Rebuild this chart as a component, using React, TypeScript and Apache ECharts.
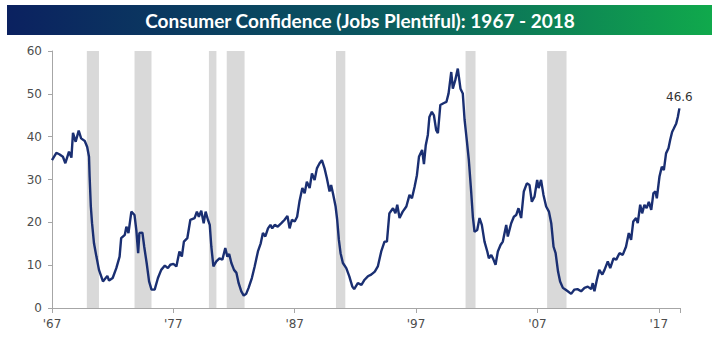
import React, { useEffect, useRef } from "react";
import * as echarts from "echarts";

const TITLE = "Consumer Confidence (Jobs Plentiful): 1967 - 2018";

// Observation dates (decimal years) and Jobs Plentiful readings (%)
const obsYear: number[] = [
  1967.0, 1967.36, 1967.6, 1967.9, 1968.1, 1968.4, 1968.6, 1968.73, 1968.95, 1969.2, 1969.4, 1969.7, 1969.9,
  1970.05, 1970.1, 1970.2, 1970.3, 1970.46, 1970.66, 1970.87, 1971.2, 1971.56, 1971.7, 1972.0, 1972.3, 1972.57,
  1972.7, 1973.0, 1973.13, 1973.3, 1973.54, 1973.8, 1973.95, 1974.1, 1974.2, 1974.45, 1974.6, 1974.8, 1975.0,
  1975.2, 1975.46, 1975.73, 1976.0, 1976.3, 1976.55, 1976.75, 1977.0, 1977.25, 1977.5, 1977.7, 1977.87, 1978.15,
  1978.4, 1978.75, 1978.94, 1979.1, 1979.3, 1979.5, 1979.66, 1979.85, 1980.0, 1980.13, 1980.3, 1980.54, 1980.8,
  1981.04, 1981.28, 1981.45, 1981.6, 1981.78, 1982.0, 1982.2, 1982.38, 1982.6, 1982.8, 1983.0, 1983.2, 1983.47,
  1983.7, 1983.97, 1984.2, 1984.38, 1984.58, 1984.8, 1985.0, 1985.15, 1985.35, 1985.6, 1985.9, 1986.17, 1986.4,
  1986.58, 1986.77, 1987.0, 1987.2, 1987.4, 1987.63, 1987.82, 1988.0, 1988.23, 1988.42, 1988.64, 1988.83, 1989.05,
  1989.24, 1989.46, 1989.65, 1989.87, 1990.0, 1990.15, 1990.37, 1990.5, 1990.64, 1990.78, 1990.97, 1991.25, 1991.5,
  1991.75, 1991.9, 1992.2, 1992.5, 1992.76, 1993.03, 1993.3, 1993.6, 1993.85, 1994.13, 1994.4, 1994.6, 1994.8,
  1995.1, 1995.3, 1995.45, 1995.64, 1995.9, 1996.2, 1996.46, 1996.66, 1996.88, 1997.07, 1997.24, 1997.5, 1997.65,
  1997.8, 1997.97, 1998.1, 1998.3, 1998.47, 1998.66, 1998.8, 1999.0, 1999.26, 1999.5, 1999.68, 1999.9, 2000.03,
  2000.23, 2000.44, 2000.66, 2000.85, 2001.0, 2001.18, 2001.35, 2001.55, 2001.68, 2001.82, 2002.04, 2002.23, 2002.42,
  2002.64, 2002.87, 2003.0, 2003.2, 2003.38, 2003.55, 2003.74, 2003.96, 2004.15, 2004.43, 2004.56, 2004.84, 2005.06,
  2005.25, 2005.44, 2005.66, 2005.88, 2006.13, 2006.35, 2006.54, 2006.76, 2006.98, 2007.1, 2007.3, 2007.5, 2007.72,
  2007.95, 2008.14, 2008.33, 2008.5, 2008.7, 2008.87, 2009.1, 2009.3, 2009.5, 2009.78, 2010.05, 2010.3, 2010.6,
  2010.88, 2011.15, 2011.43, 2011.56, 2011.7, 2011.9, 2012.1, 2012.35, 2012.53, 2012.8, 2013.0, 2013.27, 2013.5,
  2013.76, 2014.03, 2014.3, 2014.53, 2014.72, 2014.9, 2015.13, 2015.27, 2015.47, 2015.63, 2015.82, 2016.0, 2016.18,
  2016.38, 2016.56, 2016.73, 2016.84, 2017.06, 2017.25, 2017.42, 2017.6, 2017.8, 2017.94, 2018.1, 2018.24, 2018.44,
  2018.57, 2018.7,
];

const jobsPlentiful: number[] = [
  34.5, 36.2, 35.9, 35.3, 33.8, 36.5, 35.1, 40.9, 38.8, 41.4, 39.6, 39.0, 37.6,
  35.3, 30.7, 23.7, 19.8, 15.1, 12.0, 8.9, 6.2, 7.5, 6.4, 7.0, 9.3, 12.0,
  16.3, 17.1, 19.0, 17.5, 22.5, 21.7, 18.2, 12.8, 17.5, 17.6, 14.3, 10.5, 6.2,
  4.3, 4.3, 7.0, 8.9, 9.9, 9.3, 10.1, 10.3, 9.7, 13.2, 12.0, 15.5, 16.3,
  20.6, 21.0, 22.5, 21.3, 22.7, 19.8, 22.5, 20.6, 19.4, 14.3, 9.7, 10.9, 11.6,
  11.3, 14.0, 12.0, 12.6, 10.5, 8.9, 8.2, 5.8, 3.9, 2.9, 3.3, 4.7, 7.0,
  9.7, 13.2, 15.1, 17.5, 16.7, 18.6, 19.4, 18.6, 19.4, 19.0, 19.8, 20.6, 21.5,
  18.6, 20.6, 20.2, 21.3, 25.0, 28.0, 26.8, 29.5, 28.0, 31.4, 29.9, 32.6, 33.8,
  34.5, 32.6, 30.3, 27.2, 28.7, 26.8, 23.7, 20.6, 15.9, 12.8, 10.5, 9.3, 7.4,
  5.0, 4.4, 5.8, 5.4, 6.6, 7.4, 7.8, 8.5, 9.7, 13.2, 15.5, 15.5, 22.1,
  23.3, 22.1, 24.1, 21.0, 22.5, 23.7, 26.4, 25.6, 28.3, 31.0, 35.3, 36.9, 33.6,
  38.0, 40.4, 44.6, 45.8, 45.0, 41.5, 40.8, 47.4, 47.8, 48.1, 50.1, 55.1, 51.2,
  53.2, 55.9, 51.2, 50.1, 43.9, 39.2, 34.5, 26.8, 21.3, 17.8, 18.2, 21.0, 19.4,
  15.5, 13.2, 11.6, 12.4, 11.3, 10.1, 13.2, 14.7, 15.5, 19.4, 16.7, 19.8, 21.3,
  21.7, 23.3, 21.0, 27.2, 29.1, 28.7, 24.8, 26.0, 29.9, 28.0, 29.9, 26.4, 23.7,
  22.5, 19.8, 14.3, 12.8, 8.5, 6.2, 4.7, 4.3, 3.9, 3.3, 4.3, 4.4, 3.9,
  4.7, 5.0, 4.4, 5.8, 3.9, 6.6, 8.9, 7.8, 8.9, 10.9, 9.3, 11.6, 11.3,
  12.8, 12.4, 14.3, 17.5, 15.9, 20.2, 21.0, 19.8, 24.1, 22.1, 24.1, 23.3, 24.8,
  22.9, 26.8, 27.2, 25.6, 30.7, 33.0, 32.2, 36.1, 37.3, 39.2, 41.1, 41.9, 43.1,
  44.6, 46.6,
];

// Recession periods (start, end) in decimal years
const recessionStart: number[] = [1969.87, 1973.8, 1979.93, 1981.4, 1990.4, 2001.08, 2007.8];
const recessionEnd: number[] = [1970.87, 1975.2, 1980.55, 1982.87, 1991.17, 2001.9, 2009.4];

const X_MIN = 1967;
const X_MAX = 2018.75;
const X_STEP = 10;
const Y_MIN = 0;
const Y_MAX = 60;
const Y_STEP = 10;

export default function App() {
  const ref = useRef<HTMLDivElement>(null);

  useEffect(() => {
    if (!ref.current) return;
    const chart = echarts.init(ref.current, undefined, { renderer: "svg" });

    const lineData = obsYear.map((y, i) => [y, jobsPlentiful[i]]);
    const lastIdx = obsYear.length - 1;

    const areas = recessionStart.map((s, i) => [{ xAxis: s }, { xAxis: recessionEnd[i] }]);

    const axisLabelFont = {
      color: "#4d4d4d",
      fontSize: 12,
      fontFamily: "DejaVu Sans",
    };

    chart.setOption({
      animation: false,
      backgroundColor: "#ffffff",
      grid: { left: 52, right: 40, top: 51, bottom: 37, containLabel: false },
      graphic: [
        {
          type: "rect",
          shape: { x: 7, y: 5, width: 705, height: 30 },
          style: {
            fill: new echarts.graphic.LinearGradient(0, 0, 1, 0, [
              { offset: 0, color: "#0b2160" },
              { offset: 0.5, color: "#0a5560" },
              { offset: 1, color: "#10a94c" },
            ]),
          },
          z: 10,
        },
        {
          type: "text",
          x: 360,
          y: 20,
          style: {
            text: TITLE,
            fill: "#ffffff",
            font: "bold 19px Lato",
            align: "center",
            verticalAlign: "middle",
          },
          z: 11,
        },
      ],
      xAxis: {
        type: "value",
        min: X_MIN,
        max: X_MAX,
        interval: X_STEP,
        splitLine: { show: false },
        axisLine: { show: true, lineStyle: { color: "#a6a6a6", width: 1 } },
        axisTick: { show: true, length: 5, lineStyle: { color: "#a6a6a6" } },
        axisLabel: {
          ...axisLabelFont,
          margin: 10,
          showMaxLabel: true,
          formatter: (v: number) => {
            const r = Math.round(v);
            if (Math.abs(v - r) > 0.01 || (r - X_MIN) % X_STEP !== 0) return "";
            return "'" + String(r).slice(2);
          },
        },
      },
      yAxis: {
        type: "value",
        min: Y_MIN,
        max: Y_MAX,
        interval: Y_STEP,
        splitLine: { show: false },
        axisLine: { show: true, lineStyle: { color: "#a6a6a6", width: 1 } },
        axisTick: { show: true, length: 4, lineStyle: { color: "#a6a6a6" } },
        axisLabel: { ...axisLabelFont, margin: 10 },
      },
      series: [
        {
          type: "line",
          data: [],
          silent: true,
          z: 1,
          markArea: {
            silent: true,
            itemStyle: { color: "#d9d9d9", opacity: 1 },
            data: areas,
          },
        },
        {
          type: "line",
          data: lineData,
          z: 5,
          showSymbol: false,
          symbol: "none",
          lineStyle: { color: "#1a2f72", width: 2.4 },
          itemStyle: { color: "#1a2f72" },
          markPoint: {
            silent: true,
            symbol: "circle",
            symbolSize: 1,
            itemStyle: { color: "rgba(0,0,0,0)" },
            label: {
              show: true,
              position: "top",
              distance: 5,
              color: "#333333",
              fontSize: 12,
              fontFamily: "DejaVu Sans",
              formatter: jobsPlentiful[lastIdx].toFixed(1),
            },
            data: [{ coord: [obsYear[lastIdx], jobsPlentiful[lastIdx]] }],
          },
        },
      ],
    });

    return () => chart.dispose();
  }, []);

  return (
    <div
      ref={ref}
      style={{ position: "fixed", left: 0, top: 0, width: 720, height: 345, background: "#ffffff" }}
    />
  );
}
